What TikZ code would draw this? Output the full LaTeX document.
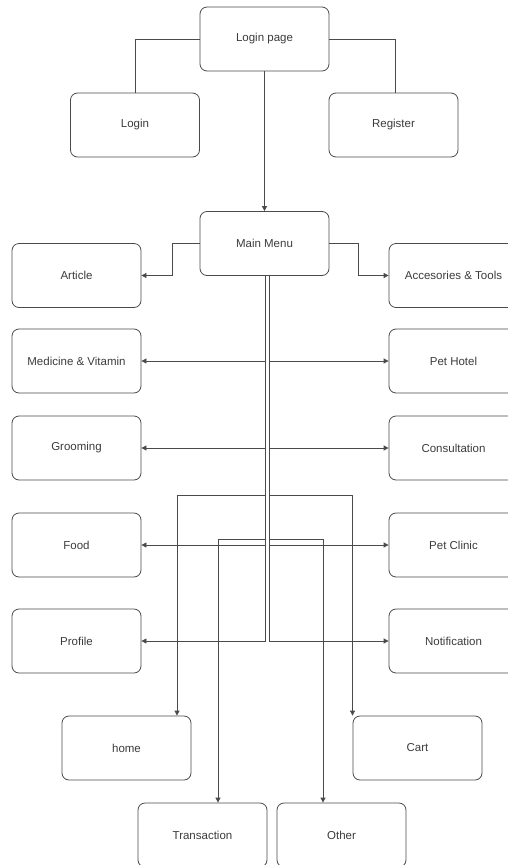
\documentclass[tikz,border=0pt]{standalone}
\usepackage{fontspec}
\setmainfont{Liberation Sans}
\usepackage{xcolor}
\usepackage{tikz}
\usetikzlibrary{shapes.geometric, arrows.meta}
\definecolor{edge}{HTML}{4A4A4A}
\definecolor{ink}{HTML}{3C3C3C}
\tikzstyle{menu} = [draw=edge, line width=0.8pt, rounded corners=7pt, fill=white, text=ink, minimum width=129pt, minimum height=64pt, inner sep=0pt, font=\fontsize{11.5}{13}\selectfont]
\tikzstyle{link} = [draw=edge, line width=0.8pt]
\tikzstyle{arrow} = [link, -{Triangle[length=5pt,width=5pt]}]

\begin{document}
\begin{tikzpicture}[x=1pt,y=-1pt]
	\useasboundingbox (0,0) rectangle (507,865);
	
	% Top part: login page and its two boxes
	\node [menu] (lp) at (264.5,39) {Login page};
	\node [menu] (login) at (135,125) {Login};
	\node [menu] (reg) at (393.5,125) {Register};
	\node [menu] (mm) at (264.5,243.5) {Main Menu};
	
	% Left column
	\node [menu] (article) at (76.5,275.5) {Article};
	\node [menu] (med) at (76.5,361) {Medicine \& Vitamin};
	\node [menu] (groom) at (76.5,448) {Grooming};
	\node [menu] (food) at (76.5,545) {Food};
	\node [menu] (profile) at (76.5,641) {Profile};
	
	% Right column (cut by the right edge)
	\node [menu] (acc) at (453.5,275.5) {Accesories \& Tools};
	\node [menu] (hotel) at (453.5,361) {Pet Hotel};
	\node [menu] (consult) at (453.5,448) {Consultation};
	\node [menu] (clinic) at (453.5,545) {Pet Clinic};
	\node [menu] (notif) at (453.5,641) {Notification};
	
	% Bottom boxes
	\node [menu] (home) at (126.5,748) {home};
	\node [menu] (cart) at (417.5,748) {Cart};
	\node [menu] (trans) at (202.5,835) {Transaction};
	\node [menu] (other) at (341.5,835) {Other};
	
	% Connectors
	\draw [link] (lp.west) -| (login.north);
	\draw [link] (lp.east) -| ([xshift=1.5]reg.north);
	\draw [arrow] (lp.south) -- (mm.north);
	\draw [arrow] (mm.west) -- ++(-27,0) |- (article.east);
	\draw [arrow] (mm.east) -- ++(29,0) |- (acc.west);
	
	% Two trunks leave the main menu side by side
	\coordinate (ml) at ([xshift=0.5]mm.south);
	\coordinate (mr) at ([xshift=4.5]mm.south);
	\foreach \n in {med,groom,food,profile}{%
		\draw [arrow] (ml) |- (\n.east);
	}
	\foreach \n in {hotel,consult,clinic,notif}{%
		\draw [arrow] (mr) |- (\n.west);
	}
	\draw [arrow] (ml) -- ++(0,219) -| ([xshift=50.5]home.north);
	\draw [arrow] (mr) -- ++(0,219) -| ([xshift=-65]cart.north);
	\draw [arrow] (ml) -- ++(0,263) -| ([xshift=15.5]trans.north);
	\draw [arrow] (mr) -- ++(0,263) -| ([xshift=-18.5]other.north);
\end{tikzpicture}
\end{document}
